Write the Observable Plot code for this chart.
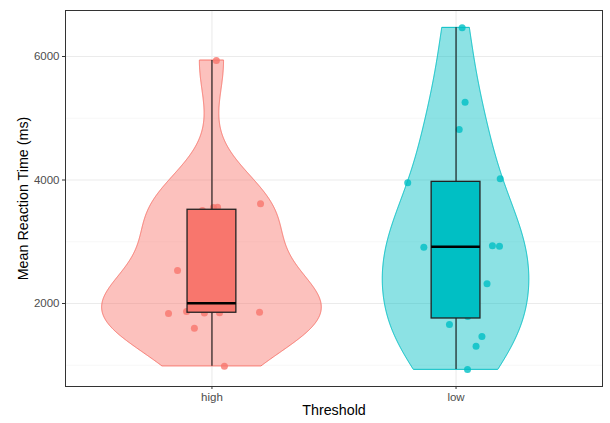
<!DOCTYPE html>
<html><head><meta charset="utf-8">
<script src="https://cdn.jsdelivr.net/npm/d3@7"></script>
<script src="https://cdn.jsdelivr.net/npm/@observablehq/plot@0.6"></script>
<style>body{margin:0;background:#fff}</style>
</head><body><div id="chart"></div>
<script>
const categories = ["high", "low"];
const colors = ["#F8766D", "#00BFC4"];
// Mean reaction times (ms) per participant
const highRT = [5935, 3614, 3554, 3558, 3506, 2534, 1840, 1870, 1846, 1852, 1858, 1600, 985, 1900, 2110, 3000];
const highJitter = [0.018, 0.199, 0.006, 0.023, -0.039, -0.141, -0.178, -0.104, -0.031, 0.031, 0.195, -0.072, 0.051, 0.0, -0.05, 0.05];
const lowRT = [6464, 5259, 4817, 4019, 3954, 2934, 2928, 2912, 2319, 1790, 1660, 1466, 1309, 931, 2350, 3250];
const lowJitter = [0.025, 0.037, 0.013, 0.181, -0.198, 0.149, 0.178, -0.132, 0.127, 0.048, -0.027, 0.106, 0.082, 0.047, -0.03, 0.02];
const yTicks = [2000, 4000, 6000];
const yMinor = [1000, 3000, 5000];
const yLabel = "Mean Reaction Time (ms)";
const xLabel = "Threshold";

const groups = [
  {cat: categories[0], pos: 1, values: highRT, jitter: highJitter},
  {cat: categories[1], pos: 2, values: lowRT, jitter: lowJitter}
];

const points = groups.flatMap(g => g.values.map((v, i) => ({cat: g.cat, x: g.pos + g.jitter[i], y: v})));

const boxes = groups.map(g => {
  const s = g.values.slice().sort(d3.ascending);
  const q1 = d3.quantileSorted(s, 0.25), med = d3.quantileSorted(s, 0.5), q3 = d3.quantileSorted(s, 0.75);
  const iqr = q3 - q1;
  const lo = d3.min(s.filter(v => v >= q1 - 1.5 * iqr));
  const hi = d3.max(s.filter(v => v <= q3 + 1.5 * iqr));
  return {cat: g.cat, x: g.pos, left: g.pos - 0.1, right: g.pos + 0.1, q1, med, q3, lo, hi};
});

function bwNrd0(x) {
  const s = x.slice().sort(d3.ascending);
  const hi = d3.deviation(s);
  const iqr = d3.quantileSorted(s, 0.75) - d3.quantileSorted(s, 0.25);
  const lo = Math.min(hi, iqr / 1.34);
  return 0.9 * lo * Math.pow(s.length, -0.2);
}
const dens = groups.map(g => {
  const bw = bwNrd0(g.values), n = g.values.length;
  const mn = d3.min(g.values), mx = d3.max(g.values);
  const pts = d3.range(512).map(i => {
    const y = mn + (mx - mn) * i / 511;
    const d = d3.sum(g.values, v => Math.exp(-0.5 * ((y - v) / bw) ** 2)) / (n * bw * Math.sqrt(2 * Math.PI));
    return {y, d};
  });
  return {g, pts};
});
const maxD = d3.max(dens, o => d3.max(o.pts, p => p.d));
const violin = dens.flatMap(o => o.pts.map(p => {
  const w = p.d / maxD * 0.45;
  return {cat: o.g.cat, y: p.y, x1: o.g.pos - w, x2: o.g.pos + w};
}));

const chart = Plot.plot({
  width: 610,
  height: 423,
  marginLeft: 65,
  marginRight: 8,
  marginTop: 10,
  marginBottom: 37,
  style: {fontFamily: "Liberation Sans, Arial, sans-serif", fontSize: "11px", background: "#fff"},
  x: {domain: [0.4, 2.6], axis: null},
  y: {domain: [656, 6745], axis: null},
  color: {domain: categories, range: colors},
  marks: [
    Plot.ruleY(yMinor, {stroke: "#F2F2F2", strokeWidth: 0.6}),
    Plot.ruleY(yTicks, {stroke: "#EBEBEB", strokeWidth: 1.1}),
    Plot.ruleX([1, 2], {stroke: "#EBEBEB", strokeWidth: 1.1}),
    Plot.areaX(violin, {y: "y", x1: "x1", x2: "x2", fill: "cat", stroke: "cat", z: "cat", fillOpacity: 0.45, strokeWidth: 1, curve: "linear"}),
    Plot.dot(points, {x: "x", y: "y", fill: "cat", r: 3.5, fillOpacity: 0.8, stroke: "none"}),
    Plot.ruleX(boxes, {x: "x", y1: "lo", y2: "hi", stroke: "#111", strokeWidth: 1.1}),
    Plot.rect(boxes, {x1: "left", x2: "right", y1: "q1", y2: "q3", fill: "cat", stroke: "#222", strokeWidth: 1.3}),
    Plot.ruleY(boxes, {y: "med", x1: "left", x2: "right", stroke: "#000", strokeWidth: 2.6}),
    Plot.frame({stroke: "#333", strokeWidth: 1}),
    Plot.axisY(yTicks, {tickSize: 3, tickPadding: 3, tickFormat: d3.format("d"), label: null, stroke: "#333", fill: "#4D4D4D", fontSize: 11.5}),
    Plot.axisX([1, 2], {tickFormat: d => categories[d - 1], tickSize: 3, tickPadding: 3, label: null, stroke: "#333", fill: "#4D4D4D", fontSize: 11.5}),
    Plot.text([yLabel], {text: d => d, frameAnchor: "left", textAnchor: "middle", rotate: -90, dx: -42.5, fontSize: 14.3, fill: "#000"}),
    Plot.text([xLabel], {text: d => d, frameAnchor: "bottom", dy: 28.5, fontSize: 14.3, fill: "#000"})
  ]
});
document.getElementById("chart").appendChild(chart);
</script>
</body></html>
